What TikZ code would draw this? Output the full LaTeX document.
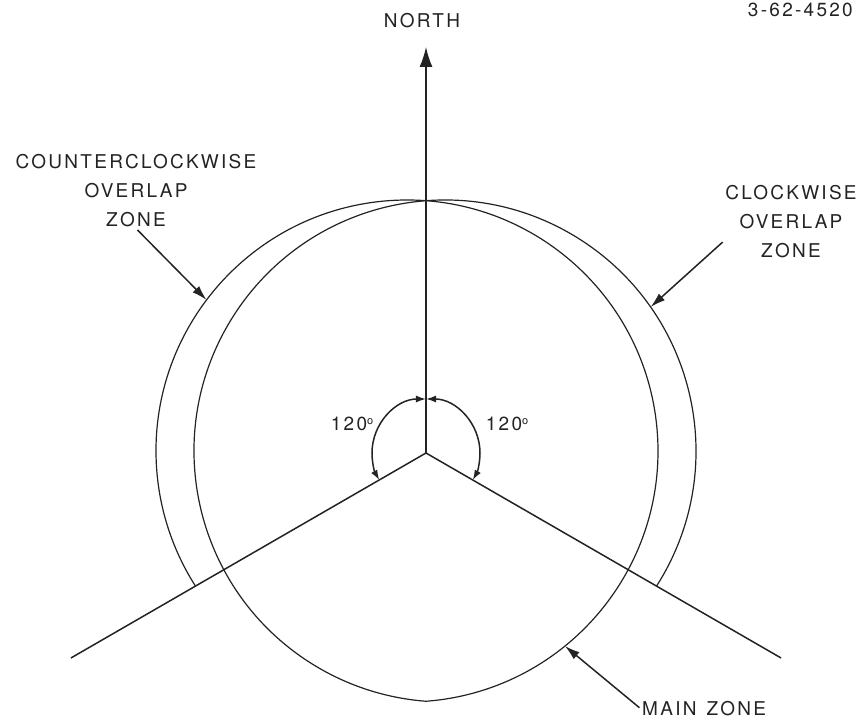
\documentclass[tikz,border=0pt]{standalone}
\usepackage{fontspec}
\setmainfont{TeX Gyre Heros}[LetterSpace=12]
\usepackage{tikz}
\usetikzlibrary{arrows.meta, positioning, calc}
\definecolor{ink}{RGB}{35, 35, 35}
\tikzset{
  font=\fontsize{19}{29}\selectfont,
  zonearc/.style={draw=ink, line width=1.2pt},
  bearing/.style={draw=ink, line width=1.5pt},
  northline/.style={draw=ink, line width=1.5pt, -{Latex[length=20pt, width=13pt]}},
  pointer/.style={draw=ink, line width=1.5pt, -{Latex[length=15pt, width=9pt]}, shorten <=2pt},
  sweep/.style={draw=ink, line width=1.5pt, {Latex[length=10pt, width=7pt]}-{Latex[length=10pt, width=7pt]}},
  zonetext/.style={text=ink, align=center, inner sep=1pt}
}
\begin{document}
\begin{tikzpicture}[x=1pt, y=1pt]
  \useasboundingbox (-426,-272) rectangle (433,453);
  \coordinate (O) at (0,0);
  \coordinate (ccw) at (-19,2);   % centre of counterclockwise circle
  \coordinate (cw) at (19,2);     % centre of clockwise circle

  % zone boundaries
  \draw[zonearc] ($(ccw)+(-85.66:251)$) arc[start angle=-85.66, end angle=212.57, radius=251];
  \draw[zonearc] ($(cw)+(-32.57:251)$) arc[start angle=-32.57, end angle=265.66, radius=251];

  % sector lines
  \coordinate (ntip) at (0,406);
  \coordinate (swend) at (210:410);
  \coordinate (seend) at (-30:410);
  \draw[northline] (O) -- (ntip);
  \draw[bearing] (O) -- (swend);
  \draw[bearing] (O) -- (seend);

  % 120 degree sweeps
  \draw[sweep] (90:54) arc[start angle=90, end angle=210, radius=54];
  \draw[sweep] (90:54) arc[start angle=90, end angle=-30, radius=54];

  \node[zonetext] (north) at (-4,432) {NORTH};
  \node[zonetext] (ccwlabel) at (-290,262) {COUNTERCLOCKWISE\\OVERLAP\\ZONE};
  \node[zonetext] (cwlabel) at (365,231) {CLOCKWISE\\OVERLAP\\ZONE};
  \node[zonetext, anchor=west] (mainlabel) at (215,-256) {MAIN\hspace{10pt}ZONE};
  \node[zonetext] (leftangle) at (-74,29) {120\raisebox{6pt}{\fontsize{11}{11}\selectfont o}};
  \node[zonetext] (rightangle) at (81,29) {120\raisebox{6pt}{\fontsize{11}{11}\selectfont o}};
  \node[zonetext, anchor=north east] (fignum) at (428,451) {3-62-4520};

  % pointers
  \coordinate (ccwtip) at ($(ccw)+(143:251)$);
  \coordinate (cwtip) at ($(cw)+(35:251)$);
  \coordinate (maintip) at ($(ccw)+(-51:251)$);
  \draw[pointer] (ccwlabel.south) -- (ccwtip);
  \draw[pointer] ($(cwlabel.south west)!0.25!(cwlabel.north west)$) -- (cwtip);
  \draw[pointer] (mainlabel.west) -- (maintip);
\end{tikzpicture}
\end{document}
